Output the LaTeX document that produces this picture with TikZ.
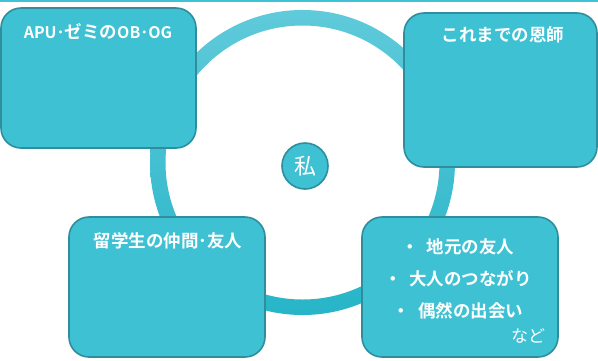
\documentclass[tikz,border=0pt]{standalone}
\usepackage{fontspec}
\newfontfamily\jpb{Noto Sans CJK JP Bold}
\newfontfamily\jpr{Noto Sans CJK JP}
\definecolor{boxfill}{HTML}{3EC1D3}
\definecolor{boxedge}{HTML}{2E8E9E}
\definecolor{ringtop}{HTML}{5FCADA}
\definecolor{ringbot}{HTML}{27B5C8}
\definecolor{topline}{HTML}{3EC3D5}
\newcommand{\latinpart}[1]{{\fontsize{16}{18}\selectfont #1}}
\tikzset{
  card/.style={draw=boxedge, fill=boxfill, line width=1.6pt, rounded corners=20pt},
  title/.style={text=white, font=\jpb\fontsize{17.5}{20}\selectfont, inner sep=0pt},
  note/.style={text=white, font=\jpr\fontsize{17}{19}\selectfont, inner sep=0pt}
}
\begin{document}
\begin{tikzpicture}[x=1pt,y=-1pt]
\useasboundingbox (0,0) rectangle (598,360);
\fill[white] (0,0) rectangle (598,360);
% top line
\draw[topline, line width=1.5pt] (0,0.75) -- (598,0.75);
% ring
\shade[top color=ringtop, bottom color=ringbot, even odd rule]
  (302.5,162.5) circle (152.5) (302.5,162.5) circle (137);
% boxes
\draw[card] (1,8) rectangle (196,148);
\node[title] (tlt) at (98,31) {\latinpart{APU･}ゼミの\latinpart{OB･OG}};
\draw[card] (404,13) rectangle (597,167);
\node[title] (trt) at (503,35) {これまでの恩師};
\draw[card] (69,217) rectangle (265,357);
\node[title] (blt) at (168,241) {留学生の仲間･友人};
\draw[card] (362,217) rectangle (558,357);
\node[title] (l1) at (458,247) {・\hspace{8pt}地元の友人};
\node[title] (l2) at (458,279) {・\hspace{8pt}大人のつながり};
\node[title] (l3) at (458,311) {・\hspace{8pt}偶然の出会い};
\node[note] (nado) at (528,336) {など};
% center circle
\node[circle, draw=boxedge, fill=boxfill, line width=1.6pt, minimum size=46pt, inner sep=0pt,
  text=white, font=\jpr\fontsize{22}{24}\selectfont] (me) at (305,166) {私};
\end{tikzpicture}
\end{document}
